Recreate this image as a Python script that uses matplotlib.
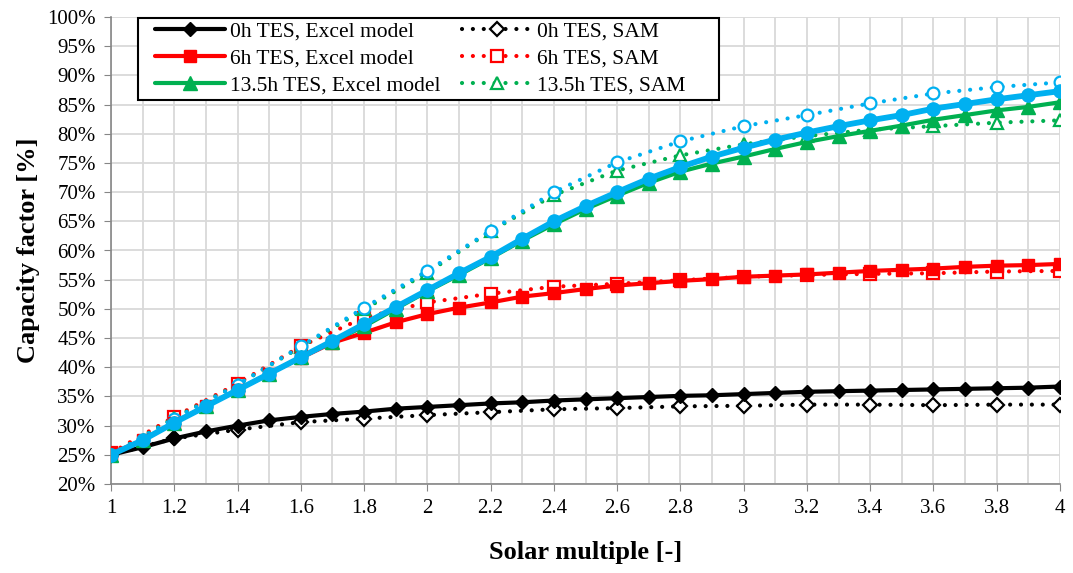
import matplotlib
matplotlib.use("Agg")
import matplotlib.pyplot as plt
from matplotlib.ticker import MultipleLocator, FuncFormatter
from matplotlib.patches import Rectangle

plt.rcParams['font.family'] = ['Liberation Serif', 'DejaVu Serif']

# Solar multiple (Excel model every 0.1, SAM every 0.2)
sm_excel = [1.0, 1.1, 1.2, 1.3, 1.4, 1.5, 1.6, 1.7, 1.8, 1.9, 2.0, 2.1, 2.2, 2.3, 2.4, 2.5,
            2.6, 2.7, 2.8, 2.9, 3.0, 3.1, 3.2, 3.3, 3.4, 3.5, 3.6, 3.7, 3.8, 3.9, 4.0]
sm_sam = [1.0, 1.2, 1.4, 1.6, 1.8, 2.0, 2.2, 2.4, 2.6, 2.8, 3.0, 3.2, 3.4, 3.6, 3.8, 4.0]

# Capacity factor [%]
cf_0h_excel = [25.0, 26.3, 27.8, 29.0, 30.0, 30.9, 31.5, 32.0, 32.4, 32.9, 33.2, 33.5, 33.8, 34.0,
               34.3, 34.5, 34.7, 34.9, 35.1, 35.2, 35.4, 35.6, 35.8, 35.9, 36.0, 36.1, 36.2,
               36.3, 36.4, 36.5, 36.7]
cf_0h_sam = [25.0, 27.8, 29.3, 30.6, 31.2, 31.8, 32.3, 32.8, 33.0, 33.3, 33.4, 33.6, 33.6,
             33.5, 33.6, 33.6]

cf_6h_excel = [25.2, 27.5, 30.5, 33.3, 36.1, 38.9, 41.6, 44.2, 45.9, 47.7, 49.1, 50.2, 51.1,
               52.1, 52.7, 53.4, 54.0, 54.4, 54.8, 55.1, 55.5, 55.7, 55.9, 56.2, 56.5, 56.7,
               56.9, 57.2, 57.4, 57.5, 57.7]
cf_6h_sam = [25.3, 31.5, 37.2, 43.6, 48.5, 51.1, 52.6, 53.8, 54.3, 54.9, 55.5, 55.8, 56.0,
             56.1, 56.4, 56.5]

cf_13h_excel = [25.0, 27.5, 30.5, 33.3, 36.1, 38.9, 41.7, 44.4, 47.0, 50.0, 53.0, 55.8, 58.7,
                61.7, 64.5, 67.1, 69.4, 71.6, 73.5, 74.9, 76.1, 77.4, 78.6, 79.6, 80.5, 81.4,
                82.4, 83.2, 84.0, 84.6, 85.4]
cf_13h_sam = [25.0, 31.3, 37.0, 43.5, 49.9, 56.2, 63.3, 69.5, 73.7, 76.3, 78.2, 79.6, 80.7,
              81.3, 81.9, 82.3]

cf_blue_excel = [25.0, 27.5, 30.5, 33.3, 36.1, 38.9, 41.7, 44.5, 47.4, 50.3, 53.2, 56.1, 58.9,
                 62.0, 65.0, 67.6, 70.0, 72.3, 74.3, 76.1, 77.6, 79.0, 80.2, 81.3, 82.3, 83.2,
                 84.3, 85.1, 85.9, 86.6, 87.3]
cf_blue_sam = [25.0, 31.2, 37.0, 43.6, 50.2, 56.5, 63.4, 70.0, 75.1, 78.7, 81.3, 83.2, 85.2,
               86.9, 88.0, 88.8]

labels_excel = ["0h TES, Excel model", "6h TES, Excel model", "13.5h TES, Excel model"]
labels_sam = ["0h TES, SAM", "6h TES, SAM", "13.5h TES, SAM"]

BLACK = "#000000"
RED = "#FF0000"
GREEN = "#00B050"
BLUE = "#00B0F0"

W, H = 1073, 573
fig = plt.figure(figsize=(W / 100, H / 100), dpi=100)
ax = fig.add_axes([111 / W, 1 - 484 / H, (1060 - 111) / W, (484 - 17) / H])

dot = (0, (0.01, 2.6))

def excel(y, c, m, ms, lw=3.0):
    return ax.plot(sm_excel, [v / 100 for v in y], color=c, lw=lw, marker=m, ms=ms,
                   mfc=c, mec=c, solid_capstyle='round', zorder=4)[0]

def sam(y, c, m, ms):
    return ax.plot(sm_sam, [v / 100 for v in y], color=c, lw=3.0, linestyle=dot,
                   dash_capstyle='round', marker=m, ms=ms, mfc='white', mec=c,
                   mew=1.6, zorder=3)[0]

h0 = excel(cf_0h_excel, BLACK, 'D', 7.5)
h6 = excel(cf_6h_excel, RED, 's', 8.5)
h13 = excel(cf_13h_excel, GREEN, '^', 9.5)
s0 = sam(cf_0h_sam, BLACK, 'D', 7.5)
s6 = sam(cf_6h_sam, RED, 's', 8.5)
s13 = sam(cf_13h_sam, GREEN, '^', 8.5)
sam(cf_blue_sam, BLUE, 'o', 8.5)
excel(cf_blue_excel, BLUE, 'o', 9.5, lw=4.2)

ax.set_xlim(1, 4)
ax.set_ylim(0.2, 1.0)
ax.xaxis.set_major_locator(MultipleLocator(0.2))
ax.yaxis.set_major_locator(MultipleLocator(0.05))
ax.xaxis.set_major_formatter(FuncFormatter(lambda v, p: f"{v:g}"))
ax.yaxis.set_major_formatter(FuncFormatter(lambda v, p: f"{v*100:.0f}%"))
ax.xaxis.set_minor_locator(MultipleLocator(0.1))
ax.grid(True, which='both', color='#D9D9D9', lw=1.3, zorder=0)
ax.set_axisbelow(True)
for s in ['top', 'right']:
    ax.spines[s].set_visible(False)
for s in ['left', 'bottom']:
    ax.spines[s].set_color('#868686')
    ax.spines[s].set_linewidth(1.2)
ax.tick_params(axis='both', which='major', length=5, color='#868686', labelsize=15, pad=6)
ax.tick_params(axis='x', which='minor', length=0)

ax.set_xlabel("Solar multiple [-]", fontsize=19, fontweight='bold', labelpad=16)
ax.set_ylabel("Capacity factor [%]", fontsize=19, fontweight='bold', labelpad=5)

# legend frame (Excel-style box wider than its content)
frame = Rectangle((138 / W, 1 - 100 / H), (719 - 138) / W, (100 - 18) / H,
                  transform=fig.transFigure, facecolor='white', edgecolor='black',
                  lw=1.5, zorder=9)
ax.add_artist(frame)
frame.set_clip_on(False)

leg = ax.legend([h0, h6, h13, s0, s6, s13], labels_excel + labels_sam, ncol=2,
                loc='upper left', bbox_to_anchor=(155 / W, 1 - 21 / H),
                bbox_transform=fig.transFigure, fontsize=15.5,
                frameon=False, handlelength=3.25, numpoints=1, borderpad=0.0,
                labelspacing=0.33, columnspacing=1.0, handletextpad=0.23,
                borderaxespad=0.0)
leg.set_zorder(10)

fig.savefig("out.png", dpi=100)
